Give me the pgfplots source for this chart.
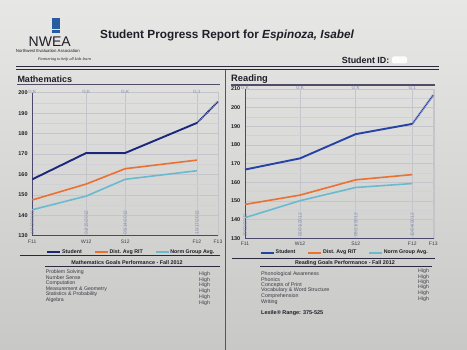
\documentclass[border=0pt]{standalone}
\usepackage{fontspec}
\setmainfont{Liberation Sans}
\newfontfamily\serifit{Liberation Serif}
\usepackage{pgfplots}
\pgfplotsset{compat=1.18}
\definecolor{navy}{RGB}{28,38,125}
\definecolor{rblue}{RGB}{38,66,165}
\definecolor{orng}{RGB}{236,112,48}
\definecolor{lblue}{RGB}{105,186,206}
\definecolor{gridc}{RGB}{196,196,202}
\definecolor{axc}{RGB}{75,72,110}
\definecolor{datec}{RGB}{128,138,172}
\definecolor{ink}{RGB}{30,30,40}
\definecolor{inkg}{RGB}{60,60,70}
\definecolor{rulec}{RGB}{45,40,62}
\definecolor{hdrl}{RGB}{85,75,105}
\definecolor{logob}{RGB}{40,92,160}
\definecolor{ptop}{RGB}{231,231,229}
\definecolor{pbot}{RGB}{200,200,198}
\newcommand{\fs}[1]{\fontsize{#1}{#1}\selectfont}
\pgfplotsset{
  rpt/.style={
    scale only axis, clip=false,
    grid=both,
    major grid style={gridc, line width=0.45pt},
    minor grid style={gridc!80, line width=0.35pt},
    major tick length=0pt, minor tick length=0pt,
    tick style={draw=none},
    axis line style={gridc, line width=0.5pt},
    /pgf/number format/assume math mode=true,
    yticklabel style={font=\bfseries\fs{5.5}, text=ink, inner sep=0pt, xshift=-4.5pt},
    xticklabel style={font=\fs{5}, text=inkg, inner sep=0pt, yshift=-4pt},
    legend style={draw=none, fill=none, inner sep=0pt, outer sep=0pt,
      font=\bfseries\fs{5.3}, text=ink, legend columns=3,
      /tikz/every even column/.append style={column sep=11pt},
      nodes={inner sep=1pt}},
    legend cell align=left,
    legend image code/.code={\draw[##1,line width=1.6pt] (0pt,0pt) -- (13pt,0pt);},
  }
}
\begin{document}
\begin{tikzpicture}[x=1pt,y=-1pt]
\useasboundingbox (0,0) rectangle (467,350);
\shade[top color=ptop, bottom color=pbot] (0,0) rectangle (467,350);
% logo
\fill[logob] (51.7,18.3) rectangle (60,24.6);
\fill[logob] (51.7,25.4) rectangle (60,28.9);
\fill[logob] (51.7,29.7) rectangle (60,33.3);
\node[anchor=base west, inner sep=0pt, text=ink, font=\fs{14}] at (28.5,47) {NWEA};
\node[anchor=base west, inner sep=0pt, text=ink, font=\fs{4.3}] at (15.7,52.8) {Northwest Evaluation Association};
\node[anchor=base west, inner sep=0pt, text=ink, font=\serifit\itshape\fs{4.1}] at (38,60.5) {Partnering to help all kids learn};
% title
\node[anchor=base west, inner sep=0pt, text=ink, font=\bfseries\fs{11.8}] at (100,38.2) {Student Progress Report for \textit{Espinoza, Isabel}};
\node[anchor=base west, inner sep=0pt, text=ink, font=\bfseries\fs{8.9}] at (341.7,63.3) {Student ID:};
\fill[white, opacity=0.9, rounded corners=2pt] (392,56.5) rectangle (407,63.5);
% rules
\draw[rulec, line width=0.6pt] (16,66.6) -- (439,66.6);
\draw[rulec, line width=1.6pt] (16,69.6) -- (439,69.6);
\draw[rulec!80, line width=0.6pt] (225.7,70.5) -- (225.7,350);
% section headers
\node[anchor=base west, inner sep=0pt, text=ink, font=\bfseries\fs{9}] at (17.3,82.6) {Mathematics};
\draw[hdrl, line width=1.1pt] (17,84.6) -- (220,84.6);
\node[anchor=base west, inner sep=0pt, text=ink, font=\bfseries\fs{9.3}] at (231,81.8) {Reading};
\draw[hdrl, line width=1.1pt] (231,85) -- (435,85);

% ---------- Mathematics chart ----------
\begin{axis}[rpt,
  at={(32.3pt,-235.7pt)}, anchor=south west,
  width=185.7pt, height=143pt,
  xmin=0, xmax=184.7, ymin=130, ymax=200,
  xtick={0,53.7,92.4,163.7,184.7},
  xticklabels={F11,W12,S12,F12,F13},
  ytick={130,140,...,200}, minor ytick={135,145,...,195},
  legend style={at={(axis description cs:0.077,-0.114)}, anchor=west},
]
\draw[axc, line width=0.8pt] (rel axis cs:0,1) -- (rel axis cs:0,0) -- (rel axis cs:1,0);
\addplot[navy, line width=1.9pt] coordinates {(0,157.6) (53.7,170.5) (92.4,170.5) (163.7,185.2)};
\addlegendentry{Student}
\addplot[orng, line width=1.6pt] coordinates {(0,147.5) (53.7,155.3) (92.4,162.8) (163.7,167.0)};
\addlegendentry{Dist. Avg RIT}
\addplot[lblue, line width=1.6pt] coordinates {(0,142.7) (53.7,149.4) (92.4,157.6) (163.7,161.8)};
\addlegendentry{Norm Group Avg.}
\addplot[navy, line width=1.8pt, dash pattern=on 1pt off 0.7pt, forget plot] coordinates {(163.7,185.2) (184.7,195.6)};
\node[text=datec, font=\fs{4.6}, inner sep=0pt, yshift=0.6pt] at (axis cs:0,200) {G:K};
\node[text=datec, font=\fs{4.6}, inner sep=0pt, yshift=0.6pt] at (axis cs:53.7,200) {G:K};
\node[text=datec, font=\fs{4.6}, inner sep=0pt, yshift=0.6pt] at (axis cs:92.4,200) {G:K};
\node[text=datec, font=\fs{4.6}, inner sep=0pt, yshift=0.6pt] at (axis cs:163.7,200) {G:1};
\node[text=datec, font=\fs{4.7}, inner sep=0pt, rotate=90, anchor=west] at (axis cs:0,130.6) {10/13/2011};
\node[text=datec, font=\fs{4.7}, inner sep=0pt, rotate=90, anchor=west] at (axis cs:53.7,130.6) {02/15/2012};
\node[text=datec, font=\fs{4.7}, inner sep=0pt, rotate=90, anchor=west] at (axis cs:92.4,130.6) {05/14/2012};
\node[text=datec, font=\fs{4.7}, inner sep=0pt, rotate=90, anchor=west] at (axis cs:163.7,130.6) {10/17/2012};
\end{axis}

% ---------- Reading chart ----------
\begin{axis}[rpt,
  at={(245pt,-238.2pt)}, anchor=south west,
  width=189pt, height=149.2pt,
  xmin=0, xmax=189, ymin=130, ymax=210,
  xtick={0,55,110.7,167.3,188.3},
  xticklabels={F11,W12,S12,F12,F13},
  ytick={130,140,...,210}, minor ytick={135,145,...,205},
  legend style={at={(axis description cs:0.08,-0.098)}, anchor=west},
]
\draw[axc, line width=0.8pt] (rel axis cs:0,1) -- (rel axis cs:0,0) -- (rel axis cs:1,0);
\addplot[rblue, line width=1.9pt] coordinates {(0,166.8) (55,172.8) (110.7,185.8) (167.3,191.3)};
\addlegendentry{Student}
\addplot[orng, line width=1.6pt] coordinates {(0,148.1) (55,153.1) (110.7,161.3) (167.3,164.1)};
\addlegendentry{Dist. Avg RIT}
\addplot[lblue, line width=1.6pt] coordinates {(0,141.0) (55,150.1) (110.7,157.2) (167.3,159.3)};
\addlegendentry{Norm Group Avg.}
\addplot[rblue, line width=1.8pt, dash pattern=on 1pt off 0.7pt, forget plot] coordinates {(167.3,191.3) (188.3,206.8)};
\node[text=datec, font=\fs{4.6}, inner sep=0pt, yshift=0.6pt] at (axis cs:0,210) {G:K};
\node[text=datec, font=\fs{4.6}, inner sep=0pt, yshift=0.6pt] at (axis cs:55,210) {G:K};
\node[text=datec, font=\fs{4.6}, inner sep=0pt, yshift=0.6pt] at (axis cs:110.7,210) {G:K};
\node[text=datec, font=\fs{4.6}, inner sep=0pt, yshift=0.6pt] at (axis cs:167.3,210) {G:1};
\node[text=datec, font=\fs{4.7}, inner sep=0pt, rotate=90, anchor=west] at (axis cs:0,130.6) {10/11/2011};
\node[text=datec, font=\fs{4.7}, inner sep=0pt, rotate=90, anchor=west] at (axis cs:55,130.6) {02/01/2012};
\node[text=datec, font=\fs{4.7}, inner sep=0pt, rotate=90, anchor=west] at (axis cs:110.7,130.6) {05/21/2012};
\node[text=datec, font=\fs{4.7}, inner sep=0pt, rotate=90, anchor=west] at (axis cs:167.3,130.6) {10/04/2012};
\end{axis}

% ---------- Goals: Mathematics ----------
\draw[rulec, line width=0.8pt] (20,255.7) -- (220,255.7);
\node[anchor=base, inner sep=0pt, text=ink, font=\bfseries\fs{5.4}] at (127,264.3) {Mathematics Goals Performance - Fall 2012};
\draw[rulec, line width=0.8pt] (45,266.3) -- (220,266.3);
\foreach \yy/\tt in {273.6/Problem Solving,279.2/Number Sense,284.6/Computation,290.6/Measurement \& Geometry,295.9/Statistics \& Probability,301.2/Algebra}{
  \node[anchor=base west, inner sep=0pt, text=inkg, font=\fs{5.2}] at (45.7,\yy) {\tt};
}
\foreach \yy in {275.2,281.9,286.9,292.9,298.6,304.2}{
  \node[anchor=base west, inner sep=0pt, text=inkg, font=\fs{5.2}] at (199,\yy) {High};
}
% ---------- Goals: Reading ----------
\draw[rulec, line width=0.8pt] (232,258.6) -- (435,258.6);
\node[anchor=base, inner sep=0pt, text=ink, font=\bfseries\fs{5.4}] at (345,264.6) {Reading Goals Performance - Fall 2012};
\draw[rulec, line width=0.8pt] (260,266.6) -- (432,266.6);
\foreach \yy/\tt in {275.2/Phonological Awareness,281.2/Phonics,286.6/Concepts of Print,291.9/Vocabulary \& Word Structure,297.9/Comprehension,303.2/Writing}{
  \node[anchor=base west, inner sep=0pt, text=inkg, font=\fs{5.3}] at (261,\yy) {\tt};
}
\foreach \yy in {272.6,278.6,283.9,288.9,294.6,300.9}{
  \node[anchor=base west, inner sep=0pt, text=inkg, font=\fs{5.2}] at (418,\yy) {High};
}
\node[anchor=base west, inner sep=0pt, text=ink, font=\bfseries\fs{5.5}] at (261,314.3) {Lexile® Range: 375-525};
\end{tikzpicture}
\end{document}
